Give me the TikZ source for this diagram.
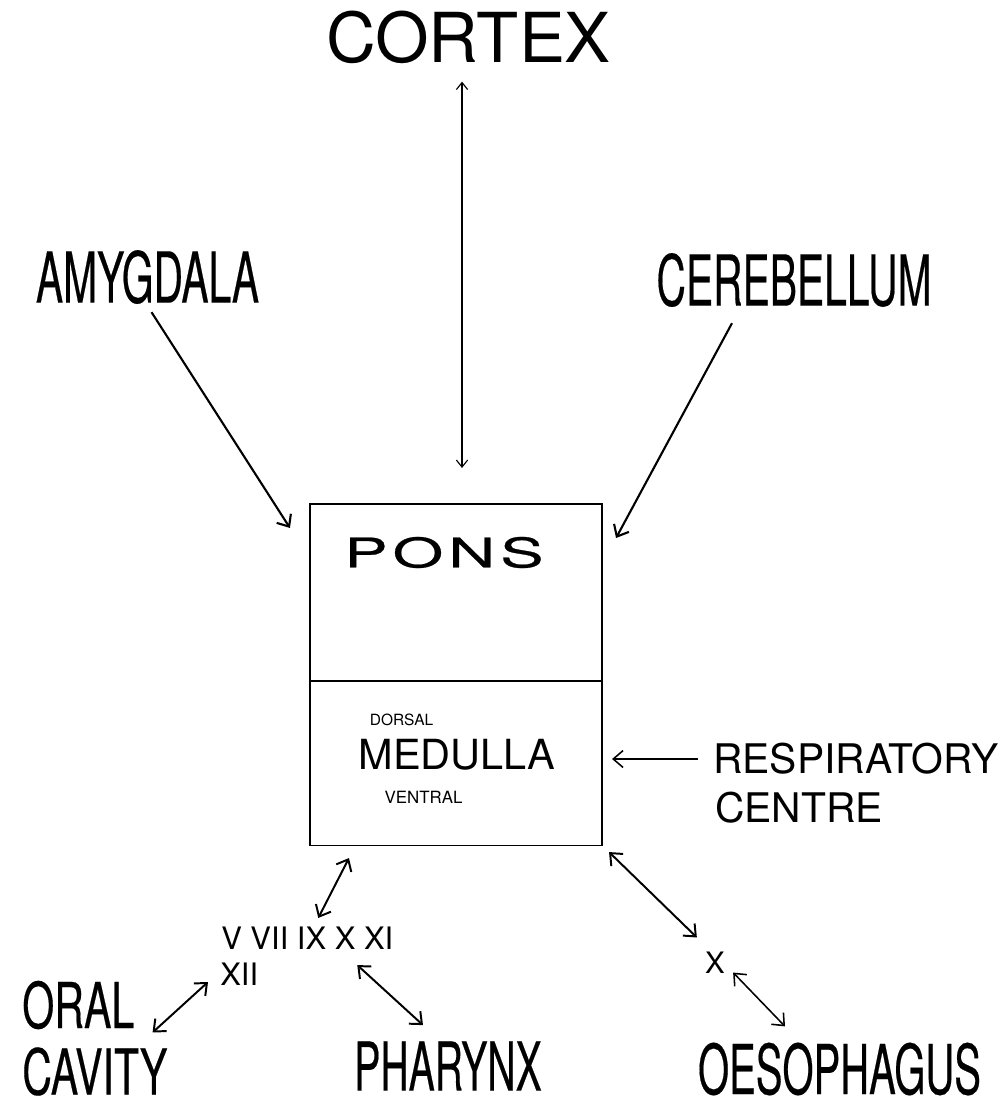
\documentclass[tikz,border=0pt]{standalone}
\usepackage{fontspec}
\setmainfont{TeX Gyre Heros}
\newfontfamily\condfont[FakeStretch=0.58,FakeBold=0.3]{TeX Gyre Heros}
\newfontfamily\semicondfont[FakeStretch=0.65,FakeBold=0.3]{TeX Gyre Heros}
\newfontfamily\widefont[FakeStretch=1.6,LetterSpace=12,FakeBold=0.6]{TeX Gyre Heros}
\usepackage{tikz}
\usetikzlibrary{arrows.meta, calc}
\newcommand{\fsz}[1]{\fontsize{#1}{#1}\selectfont}
\tikzset{
  lbl/.style={inner sep=0pt, text=black},
  region/.style={draw, line width=0.8pt, minimum width=7.3cm, inner sep=0pt, outer sep=0pt},
  onearrow/.style={-{Straight Barb[length=7pt,width=12pt]}, line width=1.5pt},
  twoarrow/.style={{Straight Barb[length=7pt,width=12pt]}-{Straight Barb[length=7pt,width=12pt]}, line width=1.4pt},
}

\begin{document}
\begin{tikzpicture}[x=0.025cm, y=-0.025cm]
  \useasboundingbox (0,0) rectangle (1002,1109);
  % Upper centres
  \node[lbl, font=\fsz{49}] (cortex) at (468.5,37) {CORTEX};
  \node[lbl, font=\condfont\fsz{50}] (amyg) at (147.5,277) {AMYGDALA};
  \node[lbl, font=\condfont\fsz{50}] (cereb) at (794,280) {CEREBELLUM};
  % Brainstem box: pons over medulla
  \node[region, minimum height=4.425cm] (ponsreg) at (456,592.5) {};
  \node[region, minimum height=4.1cm, anchor=north] (medreg) at (ponsreg.south) {};
  \node[lbl, font=\widefont\fsz{29}] (pons) at (444,552.5) {PONS};
  \node[lbl, font=\fsz{11}] (dorsal) at (401.5,719.5) {DORSAL};
  \node[lbl, font=\fsz{29.5}] (medulla) at (457,755) {MEDULLA};
  \node[lbl, font=\fsz{12}] (ventral) at (423.5,797.5) {VENTRAL};
  % Respiratory centre
  \node[lbl, font=\fsz{29}, anchor=west] (resp) at (713,759) {RESPIRATORY};
  \node[lbl, font=\fsz{29}, anchor=west] (centre) at (715,807.5) {CENTRE};
  % Cranial nerves
  \node[lbl, font=\fsz{22}, anchor=west] (cnerves) at (221,938.5) {V VII IX X XI};
  \node[lbl, font=\fsz{22}, anchor=west] (cnxii) at (220,974.5) {XII};
  \node[lbl, font=\fsz{21}] (xnerve) at (715,962.5) {X};
  % Targets
  \node[lbl, font=\semicondfont\fsz{45}, anchor=west] (oral) at (22,1005) {ORAL};
  \node[lbl, font=\semicondfont\fsz{45}, anchor=west] (cavity) at (22,1071.5) {CAVITY};
  \node[lbl, font=\condfont\fsz{48}] (pharynx) at (448,1066) {PHARYNX};
  \node[lbl, font=\condfont\fsz{49}] (oesoph) at (839.5,1069) {OESOPHAGUS};
  % Descending inputs
  \draw[{Straight Barb[length=5pt,width=8pt]}-{Straight Barb[length=5pt,width=8pt]}, line width=0.8pt]
    ($(cortex.south)+(-6.5,18)$) -- ($(ponsreg.north)+(6,-36)$);
  \draw[onearrow] ($(amyg.south)+(4,8)$) -- ($(ponsreg.north west)+(-20,24)$);
  \draw[onearrow] ($(cereb.south)+(-62,16)$) -- ($(ponsreg.north east)+(14,34)$);
  \draw[onearrow, line width=1.1pt] ($(resp.west)+(-15,0)$) -- ($(medreg.east |- resp.west)+(10,0)$);
  % Outputs via the nerves
  \draw[twoarrow] ($(medreg.south west)+(39,13)$) -- ($(cnerves.north)+(11,-9)$);
  \draw[twoarrow] ($(cnxii.west)+(-12,7.5)$) -- ($(oral.south east)+(18,3)$);
  \draw[twoarrow] ($(cnerves.south)+(50,15)$) -- ($(pharynx.north)+(-25,-16)$);
  \draw[twoarrow] ($(medreg.south east)+(7,7)$) -- ($(xnerve.north west)+(-8,-14)$);
  \draw[twoarrow, line width=1.1pt] ($(xnerve.south east)+(8,-1)$) -- ($(oesoph.north)+(-54.5,-16)$);
\end{tikzpicture}
\end{document}
